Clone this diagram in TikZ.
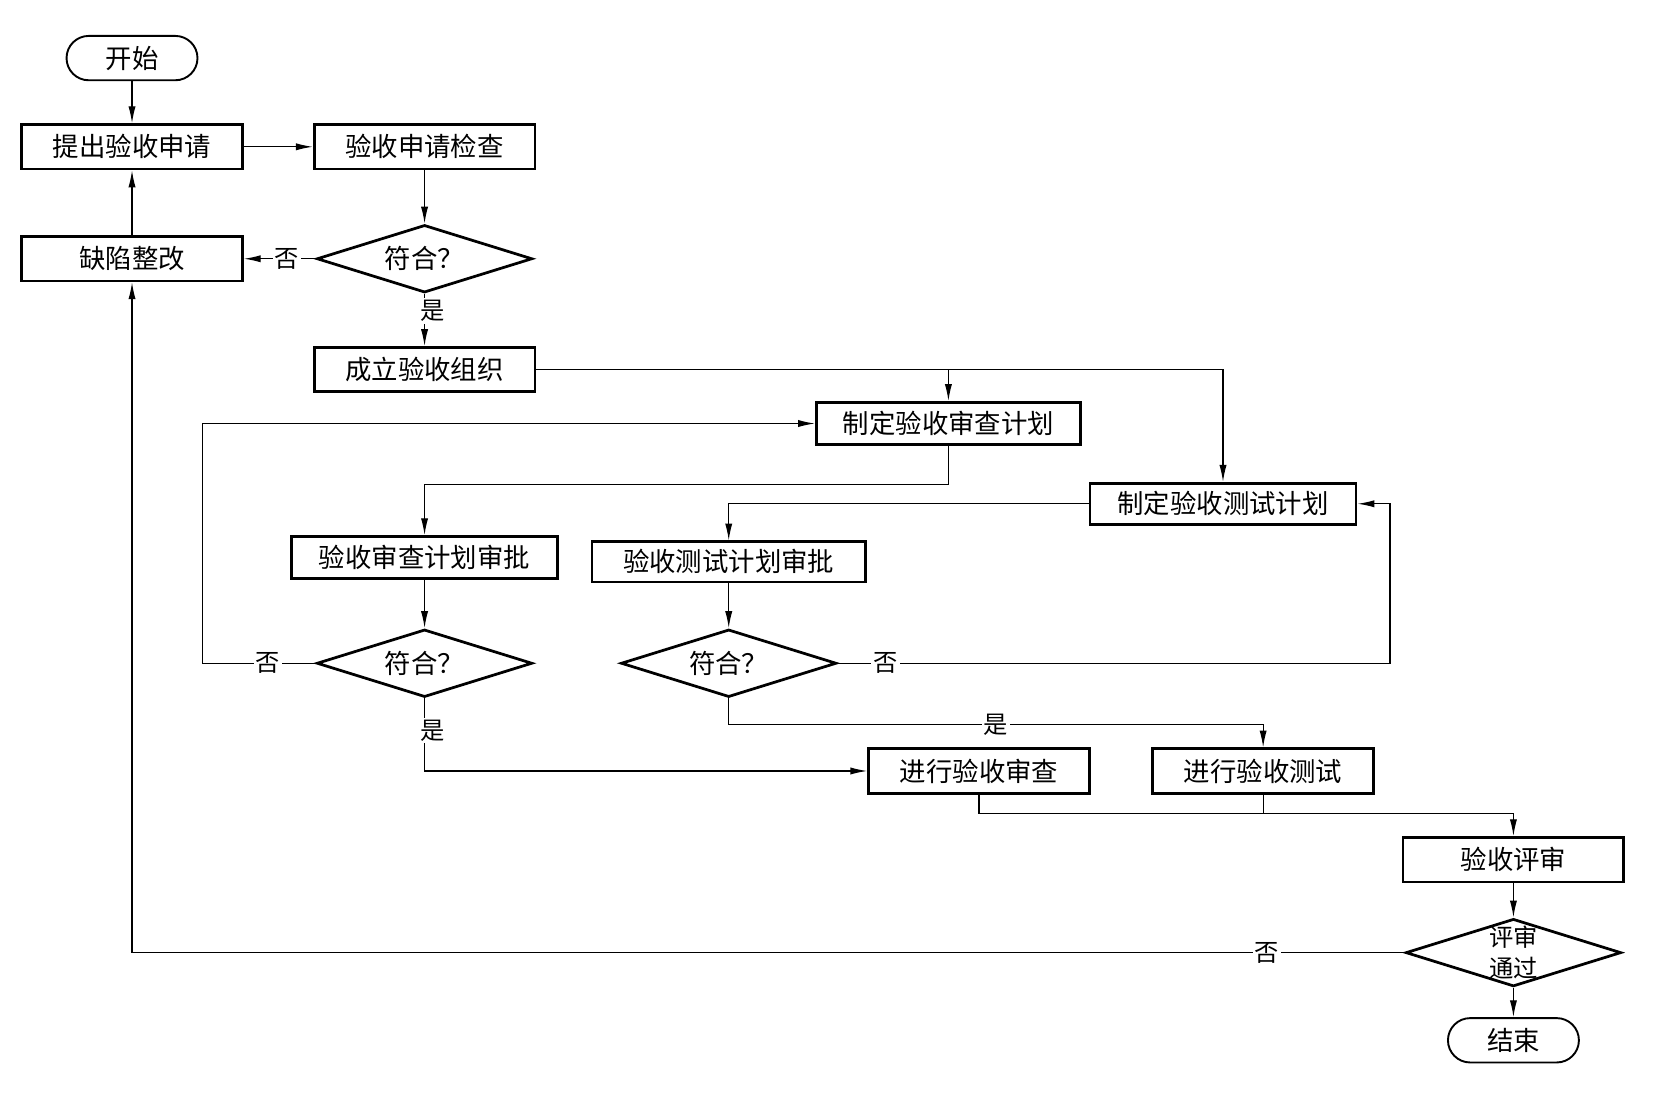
\documentclass[tikz,border=0pt]{standalone}
\usepackage{fontspec}
\setmainfont{Noto Sans CJK SC}
\usepackage{tikz}
\usetikzlibrary{
    shapes.geometric,
    positioning,
    arrows.meta
}
\tikzset{
  basic/.style = {
      draw,
      font=\fontsize{12.5}{15}\selectfont,
      inner sep=0pt,
      align=center
  },
  box/.style = {
      basic,
      rectangle,
      line width=1.3pt,
      minimum width=104.5pt,
      minimum height=21pt
  },
  wide/.style = {
      box,
      minimum width=126pt,
      minimum height=20pt
  },
  term/.style = {
      basic,
      rectangle,
      rounded corners=10.5pt,
      line width=0.9pt,
      minimum width=62pt,
      minimum height=21pt
  },
  decision/.style = {
      basic,
      diamond,
      aspect=3,
      line width=1.3pt,
      minimum width=102pt,
      minimum height=32pt
  },
  flow/.style = {
      line width=0.6pt,
      -{Latex[length=8pt,width=3.4pt]}
  },
  plain line/.style = {
      line width=0.6pt
  },
  yesno/.style = {
      fill=white,
      inner sep=1pt,
      font=\fontsize{11.5}{13}\selectfont
  }
}

\begin{document}
\begin{tikzpicture}[x=0.5pt, y=-0.5pt]
    \useasboundingbox (0,0) rectangle (1568,1040);
    % Nodes
    \node[term] (start) at (125,55) {开始};
    \node[box, node distance=42pt, below of=start] (apply) {提出验收申请};
    \node[box, node distance=138.5pt, right of=apply] (check) {验收申请检查};
    \node[decision, node distance=53pt, below of=check] (ok1) {符合？};
    \node[box, node distance=138.5pt, left of=ok1] (fix) {缺陷整改};
    \node[box, node distance=52.5pt, below of=ok1] (org) {成立验收组织};
    \node[wide, minimum width=125pt] (rplan) at (898,401) {制定验收审查计划};
    \node[wide, minimum height=19.5pt] (tplan) at (1158,477) {制定验收测试计划};
    \node[wide, node distance=89pt, below of=org] (rappr) {验收审查计划审批};
    \node[decision, node distance=50pt, below of=rappr] (ok2) {符合？};
    \node[decision, node distance=144pt, right of=ok2] (ok3) {符合？};
    \node[wide, minimum width=129.5pt, minimum height=19pt,
          node distance=48pt, above of=ok3] (tappr) {验收测试计划审批};
    \node[box] (rev) at (927,730) {进行验收审查};
    \node[box, node distance=134.5pt, right of=rev] (tst) {进行验收测试};
    \node[box] (eval) at (1433,814) {验收评审};
    \node[decision, node distance=44pt, below of=eval,
          label={[font=\fontsize{11.5}{14.5}\selectfont, align=center]center:评审\\通过}] (ok4) {};
    \node[term, node distance=41.5pt, below of=ok4] (stop) {结束};
    % Edges
    \path[flow]
    (start) edge (apply)
    (apply) edge (check)
    (check) edge (ok1)
    (fix) edge (apply)
    (ok1) edge node[yesno, pos=0.4] {否} (fix)
    (ok1) edge node[yesno, pos=0.33, xshift=4pt] {是} (org)
    (rappr) edge (ok2)
    (tappr) edge (ok3)
    (eval) edge (ok4)
    (ok4) edge (stop);
    \draw[flow] (org) -| (tplan);
    \draw[flow] (org -| rplan) -- (rplan);
    \draw[flow] (ok2) -- node[yesno, pos=0.42] {否} ++(-210,0) |- (rplan);
    \draw[flow] (rplan) -- ++(0,58) -| (rappr);
    \draw[flow] (tplan) -| (tappr);
    \draw[flow] (ok3) -- node[yesno, pos=0.086] {否} ++(626,0) |- (tplan);
    \draw[flow] (ok2) |- node[yesno, pos=0.22, xshift=4pt] {是} (rev);
    \draw[flow] (ok3) -- ++(0,58) -| node[yesno, pos=0.25] {是} (tst);
    \draw[flow] (rev) -- ++(0,40) -| (eval);
    \draw[plain line] (tst) -- ++(0,40);
    \draw[flow] (ok4) -| node[yesno, pos=0.054] {否} (fix);
\end{tikzpicture}
\end{document}
